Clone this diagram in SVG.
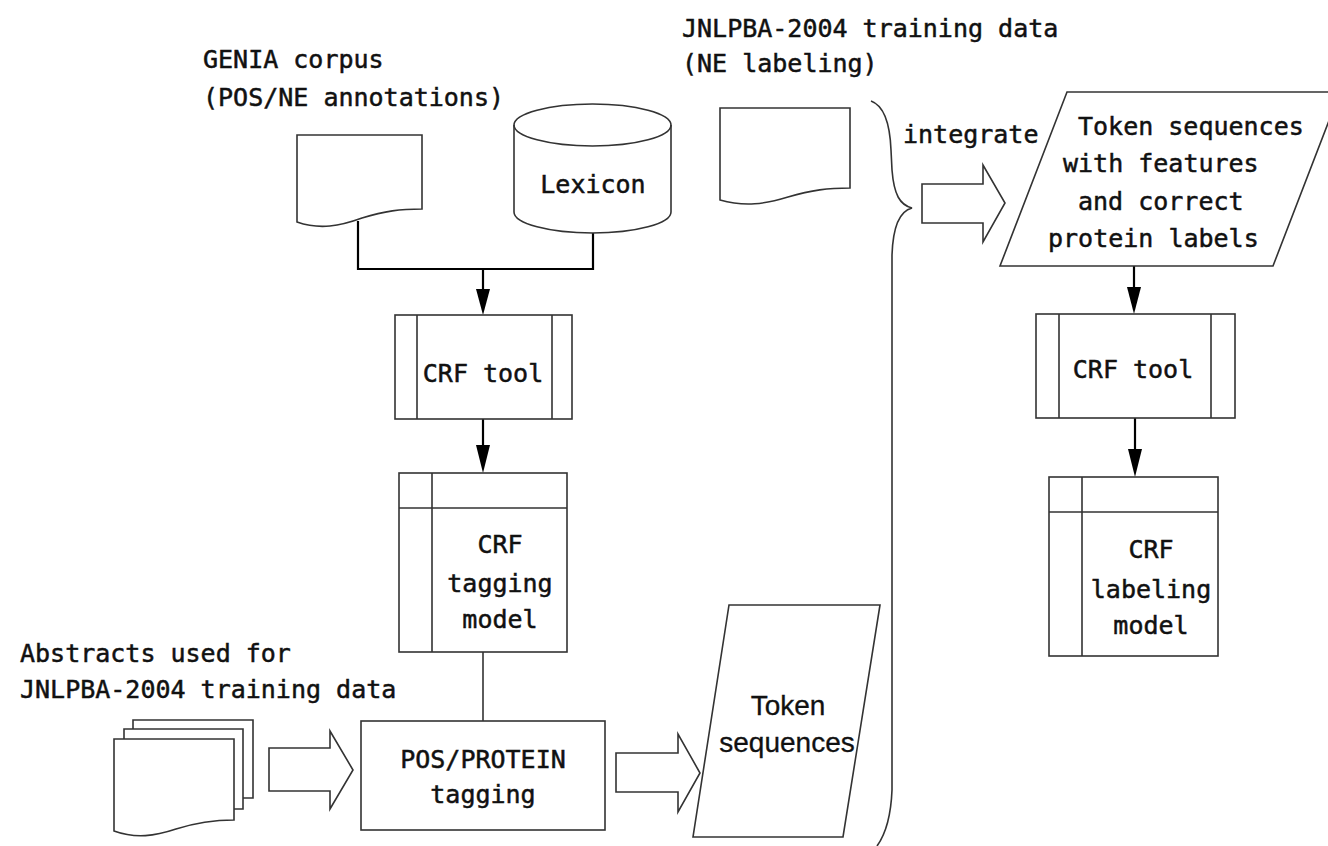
<svg xmlns="http://www.w3.org/2000/svg" width="1328" height="846" viewBox="0 0 1328 846">
  <style>
    .shape { fill: #fff; stroke: #333; stroke-width: 1.6; }
    .inner { fill: none; stroke: #333; stroke-width: 1.6; }
    .conn { fill: none; stroke: #000; stroke-width: 2.2; }
    .thin { fill: none; stroke: #333; stroke-width: 1.6; }
    .head { fill: #000; stroke: none; }
    .t { font-family: "DejaVu Sans Mono", "Liberation Mono", monospace; font-size: 25px; fill: #111; stroke: #111; stroke-width: 0.5; }
    .m { text-anchor: middle; }
    .s { font-family: "Liberation Sans", Arial, sans-serif; font-size: 28px; fill: #111; stroke: #111; stroke-width: 0.3; text-anchor: middle; }
  </style>

  <!-- captions -->
  <g id="captions">
    <text class="t" x="203" y="68">GENIA corpus</text>
    <text class="t" x="203" y="106">(POS/NE annotations)</text>
    <text class="t" x="682" y="37">JNLPBA-2004 training data</text>
    <text class="t" x="682" y="72">(NE labeling)</text>
    <text class="t" x="20" y="662">Abstracts used for</text>
    <text class="t" x="20" y="698">JNLPBA-2004 training data</text>
    <text class="t" x="903" y="143">integrate</text>
  </g>

  <!-- connectors -->
  <g id="connectors">
    <path class="conn" d="M358,221 L358,269 L593,269 L593,233"/>
    <path class="conn" d="M483,269 L483,292"/>
    <polygon class="head" points="476,289 490,289 483,315"/>
    <path class="conn" d="M483,419 L483,448"/>
    <polygon class="head" points="476,445 490,445 483,473"/>
    <path class="thin" d="M483,652 L483,721"/>
    <path class="conn" d="M1134,266 L1134,290"/>
    <polygon class="head" points="1127,287 1141,287 1134,314"/>
    <path class="conn" d="M1135,418 L1135,452"/>
    <polygon class="head" points="1128,449 1142,449 1135,477"/>
    <!-- block arrows -->
    <polygon class="shape" points="269,748 330,748 330,731 353,770 330,809 330,791 269,791"/>
    <polygon class="shape" points="616,753 678,753 678,734 700,773 678,812 678,792 616,792"/>
    <polygon class="shape" points="922,184 983,184 983,165 1005,203 983,242 983,223 922,223"/>
    <!-- brace -->
    <path class="thin" d="M871,101 C885,106 890,125 891,150 L892,170 C894,195 900,205 912,208 C900,211 893,225 892,255 L892,790 C891,815 885,835 877,846"/>
  </g>

  <!-- GENIA corpus document -->
  <g id="genia-doc">
    <path class="shape" d="M297,135 L422,135 L422,209 C400,209 385,211 362,218 C340,226 320,230 297,222 Z"/>
  </g>

  <!-- Lexicon cylinder -->
  <g id="lexicon">
    <path class="shape" d="M514,125 L514,212 A78.5,21 0 0 0 671,212 L671,125 A78.5,21 0 0 0 514,125 Z"/>
    <path class="inner" d="M514,125 A78.5,21 0 0 0 671,125"/>
    <text class="t m" x="593" y="193">Lexicon</text>
  </g>

  <!-- JNLPBA NE labeling document -->
  <g id="jnlpba-doc">
    <path class="shape" d="M720,108 L850,108 L850,188 C828,188 812,190 788,197 C765,204 745,207 720,200 Z"/>
  </g>

  <!-- CRF tool (left) -->
  <g id="crf-tool-1">
    <rect class="shape" x="395" y="315" width="177" height="104"/>
    <path class="inner" d="M417,315 L417,419 M552,315 L552,419"/>
    <text class="t m" x="483" y="382">CRF tool</text>
  </g>

  <!-- CRF tagging model -->
  <g id="crf-tagging-model">
    <rect class="shape" x="399" y="473" width="168" height="179"/>
    <path class="inner" d="M432,473 L432,652 M399,508 L567,508"/>
    <text class="t m" x="500" y="553">CRF</text>
    <text class="t m" x="500" y="592">tagging</text>
    <text class="t m" x="500" y="628">model</text>
  </g>

  <!-- abstracts (stacked documents) -->
  <g id="abstracts">
    <path class="shape" d="M133,720 L253,720 L253,798 L133,798 Z"/>
    <path class="shape" d="M124,729 L243,729 L243,809 L124,809 Z"/>
    <path class="shape" d="M114,739 L234,739 L234,820 C214,820 198,822 176,829 C155,836 136,839 114,831 Z"/>
  </g>

  <!-- POS/PROTEIN tagging -->
  <g id="pos-tagging">
    <rect class="shape" x="361" y="721" width="244" height="109"/>
    <text class="t m" x="483" y="768">POS/PROTEIN</text>
    <text class="t m" x="483" y="803">tagging</text>
  </g>

  <!-- Token sequences (output) -->
  <g id="token-seq">
    <polygon class="shape" points="729,605 880,605 843,837 693,837"/>
    <text class="s" x="788" y="715">Token</text>
    <text class="s" x="787" y="752">sequences</text>
  </g>

  <!-- integrated token sequences -->
  <g id="token-seq-labeled">
    <polygon class="shape" points="1067,92 1340,92 1273,266 1000,266"/>
    <text class="t" x="1078" y="135">Token sequences</text>
    <text class="t" x="1063" y="172">with features</text>
    <text class="t" x="1078" y="210">and correct</text>
    <text class="t" x="1048" y="247">protein labels</text>
  </g>

  <!-- CRF tool (right) -->
  <g id="crf-tool-2">
    <rect class="shape" x="1036" y="314" width="199" height="104"/>
    <path class="inner" d="M1059,314 L1059,418 M1211,314 L1211,418"/>
    <text class="t m" x="1133" y="378">CRF tool</text>
  </g>

  <!-- CRF labeling model -->
  <g id="crf-labeling-model">
    <rect class="shape" x="1049" y="477" width="169" height="179"/>
    <path class="inner" d="M1082,477 L1082,656 M1049,512 L1218,512"/>
    <text class="t m" x="1151" y="558">CRF</text>
    <text class="t m" x="1151" y="598">labeling</text>
    <text class="t m" x="1151" y="634">model</text>
  </g>
</svg>
